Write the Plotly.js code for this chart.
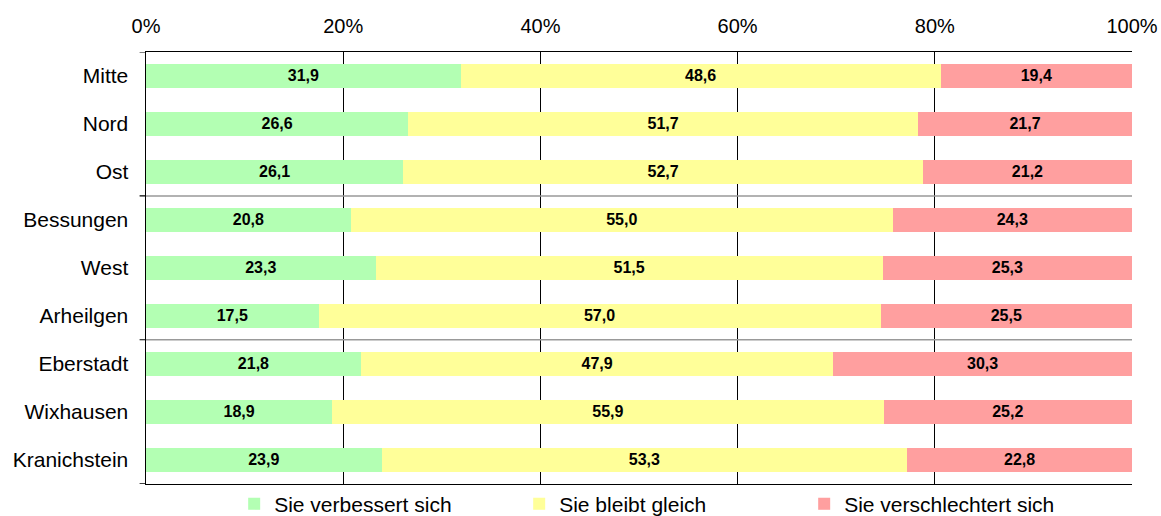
<!DOCTYPE html>
<html>
<head>
<meta charset="utf-8">
<script src="https://cdn.plot.ly/plotly-3.0.1.min.js"></script>
<style>html,body{margin:0;padding:0;background:#fff;}#chart{width:1161px;height:516px;}</style>
</head>
<body>
<div id="chart"></div>
<script>
const categories = ['Mitte','Nord','Ost','Bessungen','West','Arheilgen','Eberstadt','Wixhausen','Kranichstein'];
const seriesNames = ['Sie verbessert sich','Sie bleibt gleich','Sie verschlechtert sich'];
const improves = [31.9,26.6,26.1,20.8,23.3,17.5,21.8,18.9,23.9];
const same = [48.6,51.7,52.7,55.0,51.5,57.0,47.9,55.9,53.3];
const worse = [19.4,21.7,21.2,24.3,25.3,25.5,30.3,25.2,22.8];
const groupEnds = ['Ost','Arheilgen']; // separator lines after these categories
const xTicks = [0,20,40,60,80,100];

const colors = ['#B3FFB3','#FFFF99','#FF9F9F'];
const allSeries = [improves, same, worse];
const fmt = v => v.toFixed(1).replace('.', ',');

const traces = allSeries.map((vals, i) => ({
  type: 'bar',
  orientation: 'h',
  name: seriesNames[i],
  y: categories,
  x: vals,
  text: vals.map(fmt),
  textposition: 'inside',
  insidetextanchor: 'middle',
  textangle: 0,
  textfont: {family: 'Liberation Sans, Arial, sans-serif', size: 16, color: '#000', weight: 'bold'},
  marker: {color: colors[i], line: {width: 0}},
  width: 0.5,
  hoverinfo: 'none'
}));

const shapes = [];
groupEnds.forEach(c => {
  const idx = categories.indexOf(c) + 0.5;
  shapes.push({type: 'line', xref: 'paper', yref: 'y', x0: 0, x1: 1, y0: idx, y1: idx,
    line: {color: '#999999', width: 1.5}});
});
// left boundary tick marks at group boundaries
[-0.5].concat(groupEnds.map(c => categories.indexOf(c) + 0.5), [categories.length - 0.5]).forEach(p => {
  shapes.push({type: 'line', xref: 'paper', yref: 'y', x0: -0.0065, x1: 0, y0: p, y1: p,
    line: {color: '#000', width: 1.2}});
});

const layout = {
  width: 1161, height: 516,
  margin: {l: 146, r: 29, t: 52, b: 32},
  paper_bgcolor: '#fff', plot_bgcolor: '#fff',
  font: {family: 'Liberation Sans, Arial, sans-serif', size: 20, color: '#000'},
  barmode: 'stack',
  barnorm: 'percent',
  showlegend: true,
  legend: {orientation: 'h', x: 0.523, xanchor: 'center', yref: 'container', y: 0.023, yanchor: 'middle',
    font: {size: 21}, traceorder: 'normal', entrywidth: 240, itemwidth: 30, bgcolor: 'rgba(0,0,0,0)',
    borderwidth: 0},
  xaxis: {
    side: 'top', range: [0, 100], tickvals: xTicks, ticktext: xTicks.map(t => t + '%'),
    showgrid: true, gridcolor: '#000', gridwidth: 1,
    showline: true, linecolor: '#000', linewidth: 1.5, mirror: true,
    ticks: '', zeroline: false, fixedrange: true, ticklabelstandoff: 10
  },
  yaxis: {
    type: 'category', categoryorder: 'array', categoryarray: categories,
    range: [categories.length - 0.5, -0.5],
    showgrid: false, showline: true, linecolor: '#000', linewidth: 1.5,
    tickfont: {size: 21},
    ticks: '', ticklabelstandoff: 12, zeroline: false, fixedrange: true
  },
  shapes: shapes
};

Plotly.newPlot('chart', traces, layout, {displayModeBar: false, staticPlot: true});
</script>
</body>
</html>
